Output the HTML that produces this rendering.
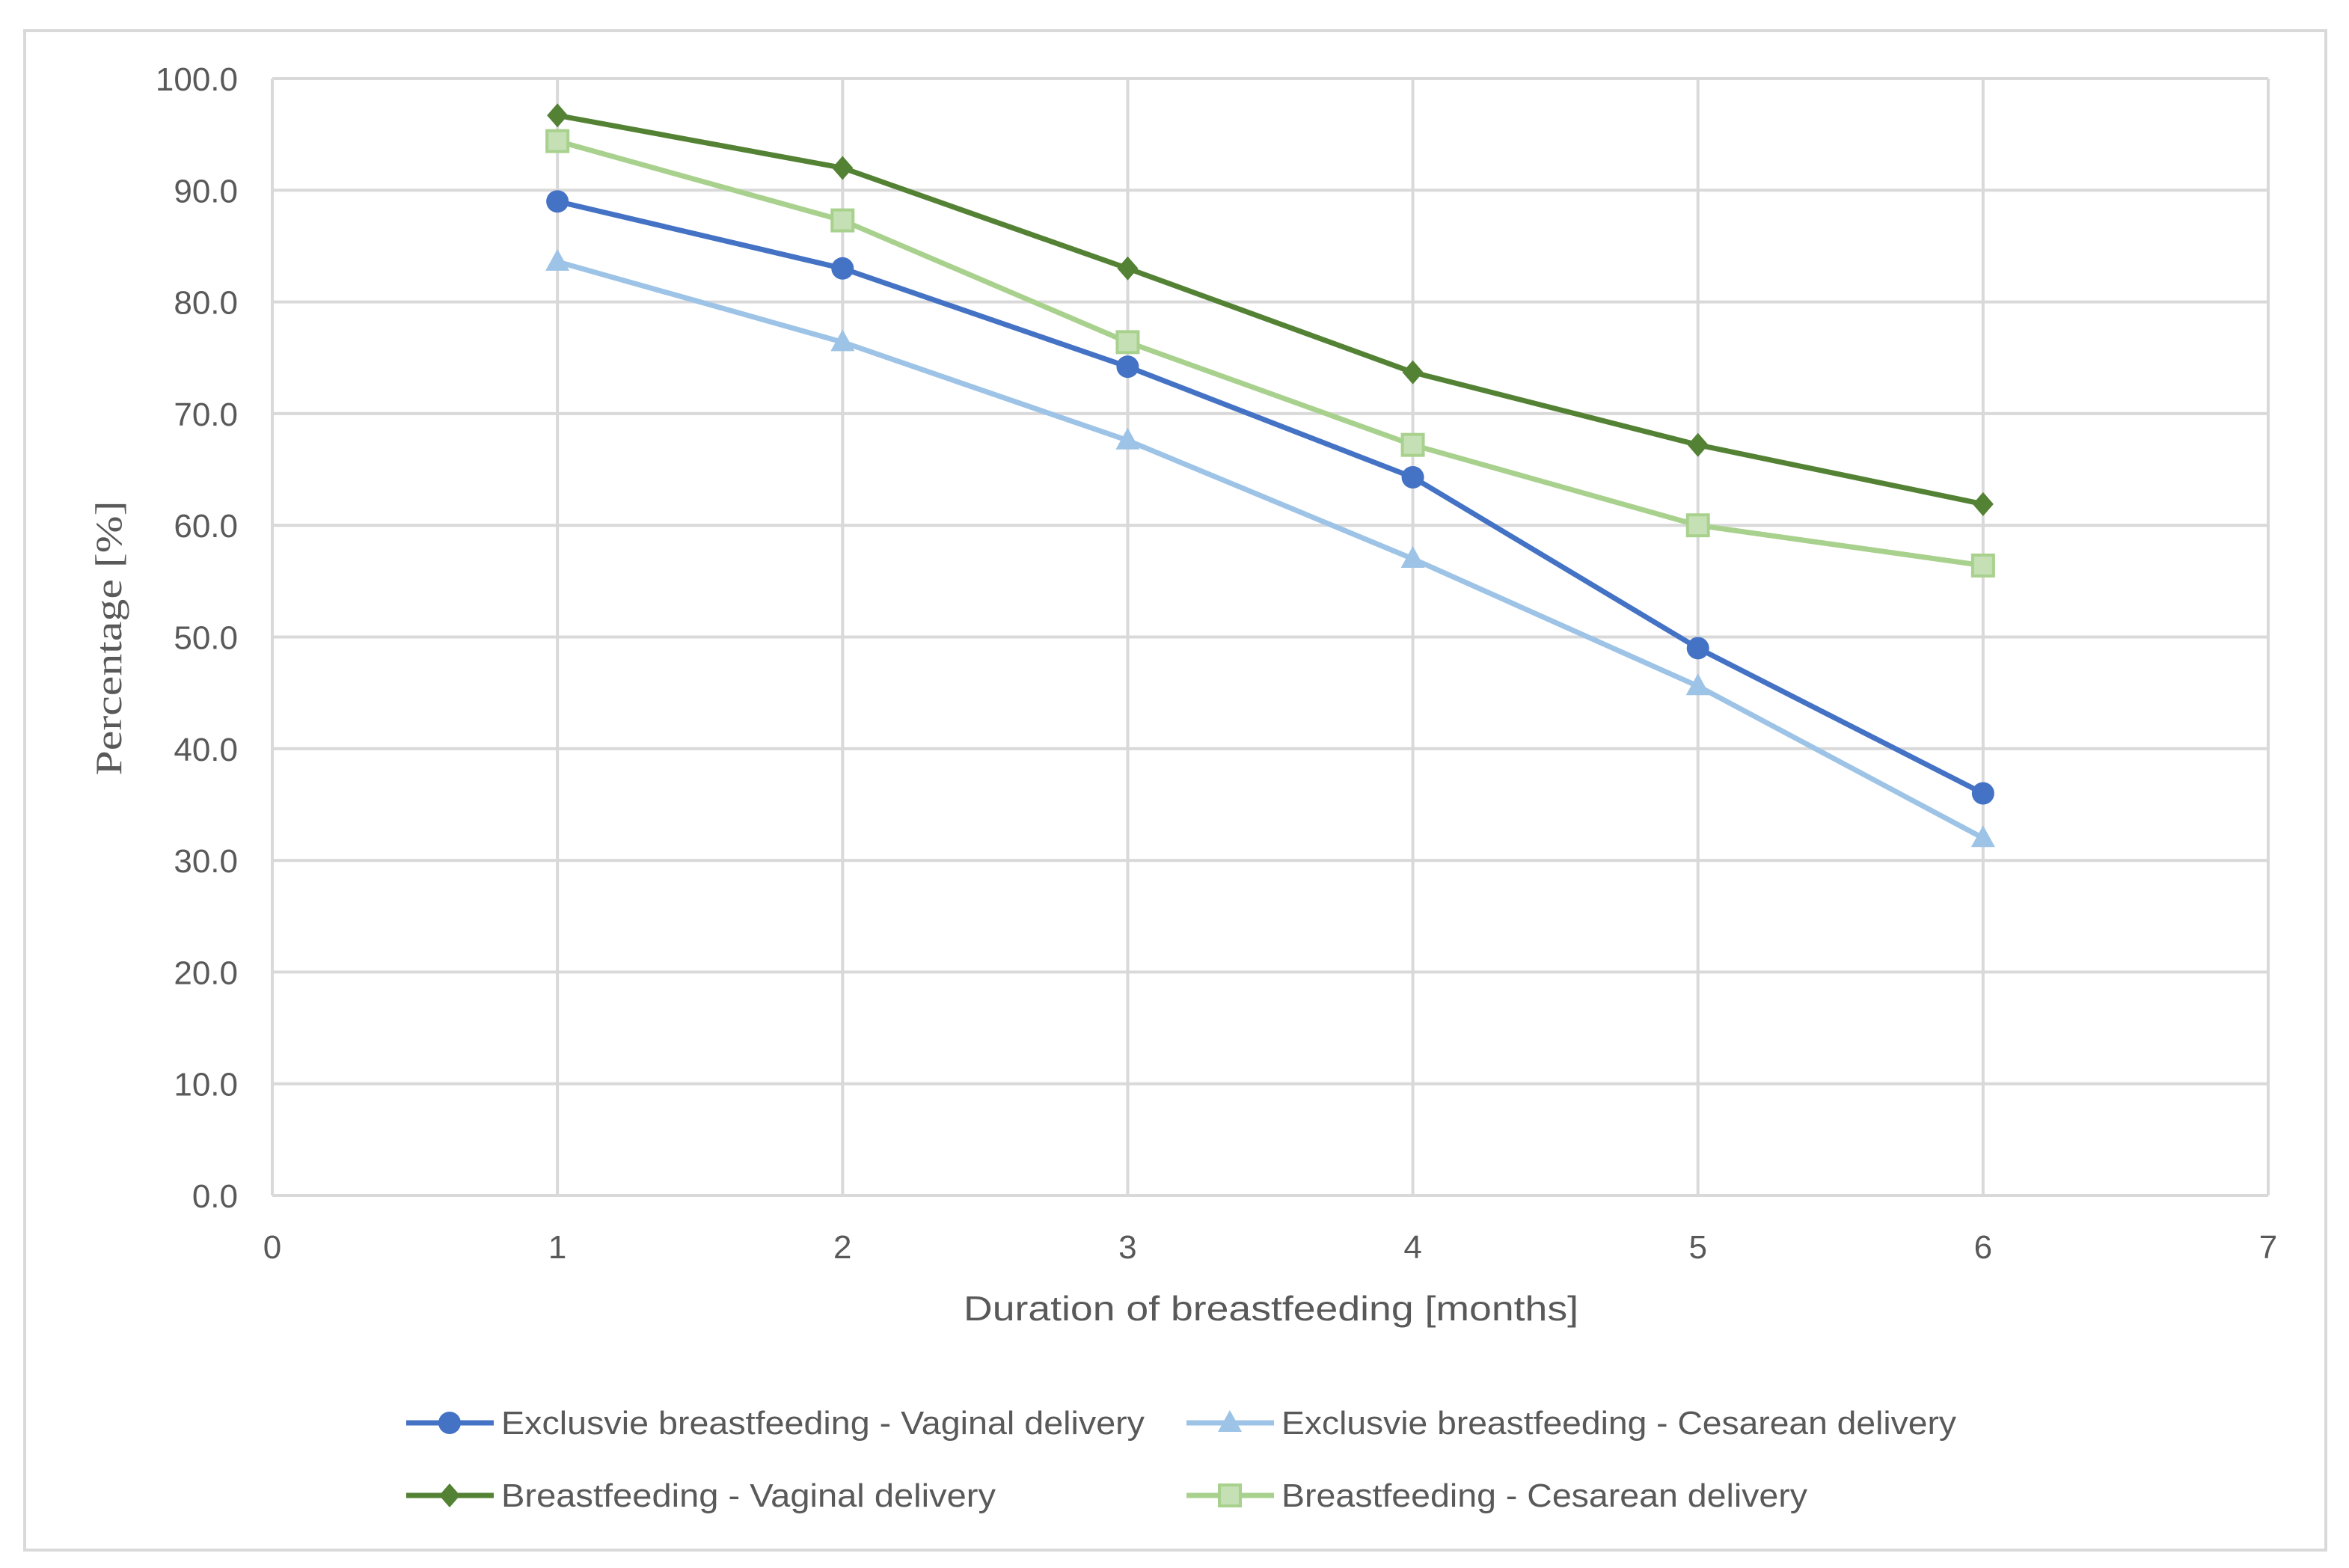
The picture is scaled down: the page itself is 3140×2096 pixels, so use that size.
<!DOCTYPE html>
<html><head><meta charset="utf-8"><style>
html,body{margin:0;padding:0;background:#fff;}
svg{display:block;}
</style></head><body>
<svg id="chart" width="3140" height="2096" viewBox="0 0 3140 2096" xmlns="http://www.w3.org/2000/svg">
<rect x="33" y="41" width="3076" height="2031" fill="#fff" stroke="#d9d9d9" stroke-width="4"/>
<g id="grid"></g>
<g id="series"></g>
<g id="labels" font-family="'Liberation Sans', sans-serif" fill="#595959"></g>
<text x="1699" y="1765" font-family="'Liberation Sans', sans-serif" font-size="46" fill="#595959" text-anchor="middle" textLength="822" lengthAdjust="spacingAndGlyphs">Duration of breastfeeding [months]</text>
<text transform="translate(162,853) rotate(-90)" font-family="'Liberation Serif', serif" font-size="50" fill="#595959" text-anchor="middle" textLength="367" lengthAdjust="spacingAndGlyphs">Percentage [%]</text>
<g id="legend" font-family="'Liberation Sans', sans-serif" font-size="44" fill="#595959"></g>
</svg>
<script>
const categories = [1, 2, 3, 4, 5, 6];
const exclVaginal = [89.0, 83.0, 74.2, 64.3, 49.0, 36.0];
const exclCesarean = [83.6, 76.4, 67.6, 57.0, 45.6, 32.0];
const bfVaginal = [96.7, 92.0, 83.0, 73.7, 67.2, 61.9];
const bfCesarean = [94.4, 87.3, 76.4, 67.2, 60.0, 56.4];
const yTicks = ["0.0","10.0","20.0","30.0","40.0","50.0","60.0","70.0","80.0","90.0","100.0"];
const xTicks = ["0","1","2","3","4","5","6","7"];
const seriesNames = ["Exclusvie breastfeeding - Vaginal delivery","Exclusvie breastfeeding - Cesarean delivery","Breastfeeding - Vaginal delivery","Breastfeeding - Cesarean delivery"];

const NS = "http://www.w3.org/2000/svg";
const L = 364, R = 3032, T = 105, B = 1598;
const xS = v => L + (v - 0) / 7 * (R - L);
const yS = v => B - v / 100 * (B - T);
function mk(tag, attrs, parent){const e=document.createElementNS(NS,tag);for(const k in attrs)e.setAttribute(k,attrs[k]);parent.appendChild(e);return e;}

const grid = document.getElementById('grid');
yTicks.forEach((t,i)=>{
  const v = parseFloat(t);
  const ln = mk('line',{x1:L,x2:R,y1:yS(v),y2:yS(v),stroke:'#d9d9d9','stroke-width':4},grid);
  
  
});
xTicks.forEach((t,i)=>{
  const v = parseFloat(t);
  const ln = mk('line',{x1:xS(v),x2:xS(v),y1:T,y2:B,stroke:'#d9d9d9','stroke-width':4},grid);
  
  
});

const labels = document.getElementById('labels');
yTicks.forEach(t=>{
  const tx = mk('text',{x:318,y:yS(parseFloat(t))+16,'text-anchor':'end','font-size':44},labels);
  tx.textContent = t;
  
  
});
xTicks.forEach(t=>{
  const tx = mk('text',{x:xS(parseFloat(t)),y:1682,'text-anchor':'middle','font-size':44},labels);
  tx.textContent = t;
  
  
});

const styles = [
  {data:exclVaginal, color:'#4472c4', fill:'#4472c4', marker:'circle'},
  {data:exclCesarean, color:'#9dc3e6', fill:'#9dc3e6', marker:'triangle'},
  {data:bfVaginal, color:'#548235', fill:'#548235', marker:'diamond'},
  {data:bfCesarean, color:'#a9d18e', fill:'#c5e0b4', marker:'square'}
];
function marker(g, type, x, y, s){
  let m;
  if(type==='circle') m = mk('circle',{cx:x,cy:y,r:15,fill:s.fill},g);
  else if(type==='triangle') m = mk('polygon',{points:`${x},${y-17} ${x+16},${y+12} ${x-16},${y+12}`,fill:s.fill},g);
  else if(type==='diamond') m = mk('polygon',{points:`${x},${y-16} ${x+14},${y} ${x},${y+16} ${x-14},${y}`,fill:s.fill},g);
  else m = mk('rect',{x:x-14,y:y-14,width:28,height:28,fill:s.fill,stroke:s.color,'stroke-width':4},g);
  return m;
}
const sg = document.getElementById('series');
styles.forEach((s,si)=>{
  const g = mk('g',{},sg);
  
  
  const pts = s.data.map((v,i)=>xS(categories[i])+','+yS(v)).join(' ');
  const pl = mk('polyline',{points:pts,fill:'none',stroke:s.color,'stroke-width':7,'stroke-linejoin':'round'},g);
  
  
  s.data.forEach((v,i)=>{
    const m = marker(g, s.marker, xS(categories[i]), yS(v), s);
    
    
  });
});

const lg = document.getElementById('legend');
const legPos = [[543,1902,860],[1586,1902,902],[543,1999,661],[1586,1999,703]];
styles.forEach((s,i)=>{
  const [x,y,w] = legPos[i];
  const g = mk('g',{},lg);
  
  
  mk('line',{x1:x,x2:x+117,y1:y,y2:y,stroke:s.color,'stroke-width':7},g);
  marker(g, s.marker, x+58, y, s);
  const tx = mk('text',{x:x+127,y:y+15,textLength:w,lengthAdjust:'spacingAndGlyphs'},g);
  tx.textContent = seriesNames[i];
});
</script>
</body></html>
